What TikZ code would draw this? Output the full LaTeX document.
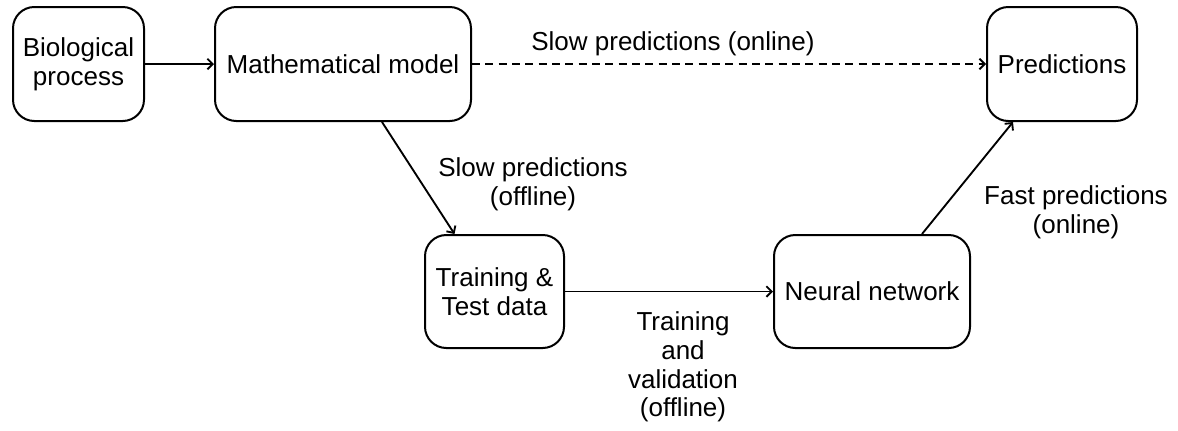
\documentclass[tikz,border=0pt]{standalone}
\usepackage{fontspec}
\setmainfont{Liberation Sans}
\usetikzlibrary{arrows.meta,calc}
\newcommand{\diafont}{\fontsize{19.5}{21.5}\selectfont}
\begin{document}
\begin{tikzpicture}[x=0.75pt,y=-0.75pt,
  box/.style={draw, line width=1.5pt, rounded corners=16pt, inner sep=0pt,
    align=center, font=\diafont, minimum height=85.5pt},
  lbl/.style={inner sep=0pt, align=center, font=\diafont},
  arr/.style={line width=1.4pt, -{Straight Barb[length=4pt,width=8pt,line width=1.4pt]}},
]
\useasboundingbox (0,0) rectangle (1178,430);

% process boxes
\node[box, minimum width=98.25pt] (bio) at (78.5,64) {Biological\\process};
\node[box, minimum width=192pt] (math) at (343,64) {Mathematical model};
\node[box, minimum width=112.5pt] (pred) at (1062,64) {Predictions};
\node[box, minimum width=104.25pt, minimum height=84.75pt] (train) at (494.5,291.5) {Training \&\\Test data};
\node[box, minimum width=147pt, minimum height=84.75pt] (neural) at (872,291.5) {Neural network};

% connectors
\draw[arr] (bio) -- (math);
\draw[arr, dash pattern=on 6pt off 4pt] (math) -- (pred);
\draw[arr] ($(math.south)+(39,0)$) -- ($(train.north)+(-40,0)$);
\draw[arr] (train) -- (neural);
\draw[arr] ($(neural.north)+(50,0)$) -- ($(pred.south)+(-49,0)$);

% connector labels
\node[lbl] (lonline) at (673,44) {Slow predictions (online)};
\node[lbl] (loffline) at (533,184) {Slow predictions\\(offline)};
\node[lbl] (ltrain) at (683,367) {Training\\and\\validation\\(offline)};
\node[lbl] (lfast) at (1076,212) {Fast predictions\\(online)};
\end{tikzpicture}
\end{document}
